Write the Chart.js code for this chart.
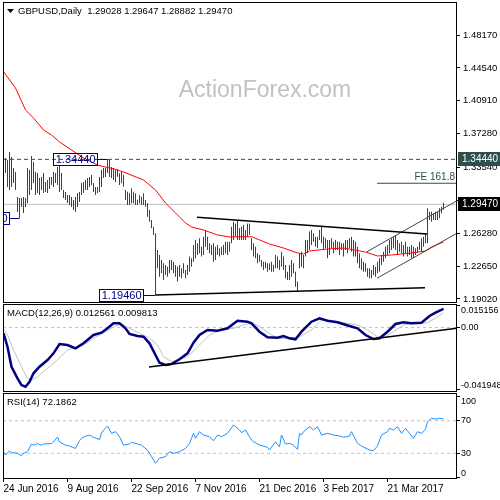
<!DOCTYPE html>
<html>
<head>
<meta charset="utf-8">
<title>GBPUSD Daily</title>
<script src="https://cdn.jsdelivr.net/npm/chart.js@4.4.1/dist/chart.umd.min.js"></script>
<style>
  html, body { margin: 0; padding: 0; background: #fff; }
  #wrap { position: relative; width: 500px; height: 500px; overflow: hidden; }
  canvas { position: absolute; left: 0; }
  #price-chart { top: 0; }
  #macd-chart { top: 303px; }
  #rsi-chart { top: 392px; }
</style>
</head>
<body>
<div id="wrap">
  <canvas id="price-chart" width="500" height="304"></canvas>
  <canvas id="macd-chart" width="500" height="90"></canvas>
  <canvas id="rsi-chart" width="500" height="108"></canvas>
</div>
<script>
// daily bars, index 0 = 24 Jun 2016
const highs = [
  1.3492, 1.3459, 1.3437, 1.3525, 1.3470, 1.3348, 1.3304, 1.3028, 1.3017, 1.3017,
  1.3028, 1.3017, 1.3348, 1.3326, 1.3481, 1.3415, 1.3304, 1.3293, 1.3238, 1.3249,
  1.3293, 1.3194, 1.3216, 1.3249, 1.3249, 1.3304, 1.3293, 1.3359, 1.3382, 1.3293,
  1.3106, 1.3083, 1.3050, 1.3050, 1.3028, 1.2995, 1.3028, 1.3072, 1.3083, 1.3183,
  1.3194, 1.3216, 1.3238, 1.3249, 1.3271, 1.3183, 1.3139, 1.3139, 1.3249, 1.3326,
  1.3348, 1.3348, 1.3444, 1.3437, 1.3359, 1.3348, 1.3326, 1.3334, 1.3290, 1.3308,
  1.3271, 1.3106, 1.3087, 1.3069, 1.3124, 1.3087, 1.3069, 1.2997, 1.3050, 1.3032,
  1.3069, 1.2995, 1.2959, 1.2885, 1.2774, 1.2701, 1.2628, 1.2443, 1.2388, 1.2333,
  1.2296, 1.2278, 1.2259, 1.2333, 1.2333, 1.2314, 1.2278, 1.2259, 1.2278, 1.2241,
  1.2296, 1.2222, 1.2278, 1.2370, 1.2351, 1.2498, 1.2554, 1.2517, 1.2572, 1.2480,
  1.2590, 1.2664, 1.2590, 1.2517, 1.2498, 1.2517, 1.2480, 1.2498, 1.2462, 1.2480,
  1.2498, 1.2535, 1.2535, 1.2535, 1.2701, 1.2756, 1.2737, 1.2774, 1.2683, 1.2701,
  1.2719, 1.2664, 1.2737, 1.2737, 1.2572, 1.2517, 1.2480, 1.2406, 1.2388, 1.2333,
  1.2314, 1.2314, 1.2296, 1.2296, 1.2314, 1.2278, 1.2388, 1.2370, 1.2333, 1.2425,
  1.2370, 1.2278, 1.2204, 1.2278, 1.2333, 1.2296, 1.2204, 1.2094, 1.2406, 1.2425,
  1.2388, 1.2554, 1.2554, 1.2646, 1.2664, 1.2628, 1.2590, 1.2590, 1.2664, 1.2701,
  1.2590, 1.2572, 1.2554, 1.2554, 1.2572, 1.2535, 1.2554, 1.2535, 1.2535, 1.2517,
  1.2517, 1.2554, 1.2554, 1.2572, 1.2590, 1.2554, 1.2535, 1.2480, 1.2406, 1.2351,
  1.2314, 1.2296, 1.2241, 1.2241, 1.2222, 1.2278, 1.2259, 1.2314, 1.2351, 1.2388,
  1.2425, 1.2480, 1.2498, 1.2554, 1.2572, 1.2590, 1.2609, 1.2554, 1.2517, 1.2535,
  1.2498, 1.2535, 1.2480, 1.2480, 1.2498, 1.2480, 1.2462, 1.2480, 1.2535, 1.2572,
  1.2590, 1.2628, 1.2904, 1.2866, 1.2866, 1.2848, 1.2866, 1.2866, 1.2904, 1.2921,
  1.29647
];
const lows = [
  1.3216, 1.3293, 1.3139, 1.3106, 1.3139, 1.3183, 1.3106, 1.2863, 1.2796, 1.2918,
  1.2852, 1.2918, 1.2962, 1.3050, 1.3106, 1.3183, 1.3050, 1.3072, 1.3050, 1.3106,
  1.3072, 1.3083, 1.3072, 1.3117, 1.3161, 1.3139, 1.3183, 1.3161, 1.3083, 1.3106,
  1.3017, 1.2995, 1.2962, 1.2940, 1.2918, 1.2885, 1.2863, 1.2918, 1.2973, 1.3050,
  1.3072, 1.3106, 1.3106, 1.3139, 1.3161, 1.3083, 1.3050, 1.3072, 1.3083, 1.3139,
  1.3238, 1.3249, 1.3293, 1.3249, 1.3238, 1.3216, 1.3194, 1.3253, 1.3161, 1.3180,
  1.3142, 1.2995, 1.2940, 1.2940, 1.2959, 1.2959, 1.2940, 1.2940, 1.2959, 1.2940,
  1.2940, 1.2921, 1.2811, 1.2756, 1.2683, 1.2609, 1.1946, 1.2241, 1.2148, 1.2186,
  1.2112, 1.2167, 1.2148, 1.2186, 1.2222, 1.2186, 1.2148, 1.2094, 1.2148, 1.2130,
  1.2186, 1.2130, 1.2167, 1.2204, 1.2259, 1.2314, 1.2351, 1.2388, 1.2406, 1.2370,
  1.2388, 1.2480, 1.2443, 1.2406, 1.2388, 1.2314, 1.2333, 1.2388, 1.2370, 1.2388,
  1.2388, 1.2406, 1.2388, 1.2425, 1.2517, 1.2554, 1.2590, 1.2554, 1.2554, 1.2554,
  1.2554, 1.2554, 1.2590, 1.2609, 1.2443, 1.2370, 1.2351, 1.2296, 1.2314, 1.2259,
  1.2222, 1.2241, 1.2204, 1.2222, 1.2204, 1.2204, 1.2241, 1.2241, 1.2222, 1.2259,
  1.2222, 1.2130, 1.2112, 1.2112, 1.2148, 1.2186, 1.2038, 1.1986, 1.2241, 1.2259,
  1.2241, 1.2370, 1.2406, 1.2443, 1.2498, 1.2535, 1.2480, 1.2462, 1.2554, 1.2517,
  1.2443, 1.2462, 1.2351, 1.2388, 1.2462, 1.2406, 1.2443, 1.2443, 1.2388, 1.2443,
  1.2370, 1.2443, 1.2406, 1.2462, 1.2425, 1.2370, 1.2370, 1.2296, 1.2241, 1.2222,
  1.2204, 1.2204, 1.2148, 1.2130, 1.2130, 1.2167, 1.2148, 1.2186, 1.2204, 1.2278,
  1.2314, 1.2351, 1.2388, 1.2406, 1.2443, 1.2462, 1.2443, 1.2388, 1.2425, 1.2406,
  1.2370, 1.2406, 1.2370, 1.2388, 1.2351, 1.2351, 1.2388, 1.2406, 1.2443, 1.2425,
  1.2480, 1.2517, 1.2517, 1.2774, 1.2756, 1.2774, 1.2774, 1.2774, 1.2793, 1.2848,
  1.28882
];

// red moving average, [bar, price]
const maPoints = [
  [0, 1.4412], [6, 1.4232], [11, 1.3989], [15, 1.3901], [20, 1.3768], [24, 1.3713],
  [28, 1.3636], [34, 1.3547], [40, 1.3459], [47, 1.3380], [53, 1.3349], [56, 1.3334],
  [60, 1.3304], [70, 1.3216], [76, 1.3106], [81, 1.2962], [86, 1.2852], [91, 1.2741],
  [94, 1.2697], [100, 1.2664], [107, 1.2609], [113, 1.2587], [124, 1.2590], [128, 1.2554],
  [133, 1.2509], [140, 1.2465], [147, 1.2410], [150, 1.2399], [153, 1.2432], [162, 1.2454],
  [170, 1.2465], [181, 1.2421], [187, 1.2377], [194, 1.2388], [204, 1.2410], [211, 1.2432],
  [214, 1.2476], [220, 1.2532]
];

const macdPoints = [
  [0, -0.00386], [2, -0.01287], [4, -0.02631], [7, -0.03410], [9, -0.03861], [11, -0.03975],
  [13, -0.03639], [15, -0.03074], [18, -0.02631], [22, -0.02180], [25, -0.01730], [28, -0.01105],
  [32, -0.01172], [36, -0.01394], [40, -0.01058], [45, -0.00500], [49, -0.00346], [52, -0.00050],
  [55, 0.00286], [58, 0.00286], [61, -0.00050], [63, -0.00433], [67, -0.00568], [70, -0.00615],
  [73, -0.01058], [76, -0.01844], [78, -0.02362], [81, -0.02516], [84, -0.02449], [88, -0.02134],
  [92, -0.01730], [95, -0.01018], [98, -0.00500], [102, -0.00164], [107, -0.00211], [112, -0.00050],
  [117, 0.00461], [122, 0.00394], [124, 0.00286], [128, -0.00278], [132, -0.00655], [137, -0.00682],
  [140, -0.00568], [143, -0.00722], [146, -0.00789], [149, -0.00278], [154, 0.00394], [158, 0.00622],
  [162, 0.00461], [167, 0.00353], [173, 0.00105], [177, -0.00050], [181, -0.00500], [185, -0.00769],
  [188, -0.00722], [192, -0.00278], [196, 0.00239], [200, 0.00353], [204, 0.00286], [209, 0.00326],
  [213, 0.00777], [216, 0.00998], [220, 0.012561]
];
const signalPoints = [
  [0, -0.00117], [2, -0.00500], [5, -0.01508], [9, -0.02631], [12, -0.03410], [14, -0.03524],
  [17, -0.03303], [22, -0.02738], [27, -0.02180], [32, -0.01508], [35, -0.01394], [40, -0.01172],
  [45, -0.00722], [48, -0.00500], [52, -0.00211], [56, 0.00105], [59, 0.00239], [63, -0.00050],
  [68, -0.00386], [73, -0.00722], [77, -0.01172], [80, -0.01958], [84, -0.02295], [87, -0.02180],
  [92, -0.01958], [98, -0.01172], [103, -0.00500], [108, -0.00211], [115, -0.00050], [120, 0.00172],
  [124, 0.00326], [128, 0.00058], [134, -0.00500], [138, -0.00722], [143, -0.00722], [148, -0.00615],
  [154, -0.00164], [159, 0.00508], [164, 0.00461], [170, 0.00326], [177, 0.00172], [182, -0.00164],
  [187, -0.00615], [190, -0.00682], [195, -0.00278], [200, 0.00172], [207, 0.00326], [212, 0.00326],
  [216, 0.00622], [220, 0.009813]
];

const rsiPoints = [
  [0, 32], [1, 28], [3, 33], [4, 31], [7, 30], [9, 27], [10, 30], [12, 32], [14, 41.5], [15, 40],
  [17, 42], [19, 40], [20, 41.5], [24, 42], [25, 44], [27, 50], [28, 44], [31, 40], [33, 39], [36, 36],
  [38, 45.5], [39, 48.5], [41, 51], [43, 52.5], [45, 49.7], [48, 47], [49, 55], [51, 61], [52, 63.5], [54, 54.6],
  [56, 56.6], [58, 50.4], [60, 40], [63, 41.5], [64, 43.6], [67, 41.5], [69, 40], [72, 34], [74, 26], [76, 17.8],
  [78, 24], [81, 26], [83, 32], [85, 30], [88, 32], [91, 36], [93, 42], [95, 54.6], [96, 48.5], [98, 56.6],
  [100, 52.5], [103, 50.4], [105, 45.5], [107, 52.5], [109, 50.4], [112, 54.6], [115, 64.8], [118, 58.7], [119, 55.3], [121, 58.7],
  [123, 50.4], [124, 46.4], [125, 44.3], [128, 40.2], [132, 37.4], [133, 34], [136, 44.3], [138, 38], [139, 52.5], [141, 41.5],
  [143, 42.3], [145, 40], [147, 35], [148, 54.6], [149, 52.5], [150, 56.6], [153, 62.7], [155, 58.7], [157, 62.7], [159, 52.5],
  [162, 54.6], [165, 52.5], [168, 51.3], [170, 49.7], [173, 51.3], [174, 56.6], [177, 42.3], [179, 39], [183, 34], [185, 33.3],
  [187, 39], [189, 52.5], [192, 56.6], [193, 60.7], [195, 58.7], [197, 62.7], [199, 54.6], [201, 60.7], [203, 54.6], [205, 48.5],
  [207, 56.6], [209, 54.6], [211, 59.5], [212, 68.8], [214, 73], [216, 72], [218, 73], [220, 72.1862]
];

// drawn studies, [bar, value]
const triangleTop = [[96.75, 1.2804], [211.75, 1.2620]];
const triangleBottom = [[76, 1.1946], [210.75, 1.2027]];
const channelTop = [[181.75, 1.2424], [226.75, 1.2987]];
const channelBottom = [[186.75, 1.2131], [226.75, 1.2628]];
const feLevel = [[186.75, 1.3180], [226.75, 1.3180]];
const macdTrend = [[72.75, -0.02651], [226.75, -0.0005]];
const resistance = 1.3444;
const lastClose = 1.2947;

const noteLabels = ["1.34440", "1.19460", "1.27960"];
const notePrices = [1.3444, 1.1946, 1.2796];
const noteBars = [52, 76, 8];

const priceTicks = [1.4817, 1.4454, 1.4091, 1.3728, 1.3354, 1.2991, 1.2628, 1.2265, 1.1902];
const macdTicks = [0.015156, 0, -0.041948];
const macdTickLabels = ["0.015156", "0.00", "-0.041948"];
const rsiTicks = [100, 70, 30, 0];
const rsiTickLabels = ["100", "70", "30", "0"];
const rsiLevels = [70, 30];
const dateTickIndex = [0, 32, 64, 96, 128, 160, 192];
const dateTickLabels = ["24 Jun 2016", "9 Aug 2016", "22 Sep 2016", "7 Nov 2016", "21 Dec 2016", "3 Feb 2017", "21 Mar 2017"];

const X_MIN = -0.25;
const X_MAX = 226.75;
const PRICE_MIN = 1.18578;
const PRICE_MAX = 1.51814;
const MACD_MIN = -0.043292;
const MACD_MAX = 0.015828;
const RSI_MIN = -1.47;
const RSI_MAX = 104.05;
const RIGHT_AXIS_WIDTH = 43;
const FONT = "'Liberation Sans', Arial, sans-serif";
const BAR_COLOR = "#1a4c6c";
const SLATE = "#2f4f4f";

Chart.defaults.font.family = FONT;
Chart.defaults.font.size = 9.5;
Chart.defaults.color = "#000";

function toXY(points) {
  return points.map(([x, y]) => ({ x, y }));
}

function lineSet(points, color, width, extra) {
  return Object.assign({
    type: "line",
    data: toXY(points),
    borderColor: color,
    borderWidth: width,
    pointRadius: 0,
    tension: 0,
    fill: false
  }, extra);
}

function levelSet(value, color, extra) {
  return lineSet([[X_MIN, value], [X_MAX, value]], color, 1, extra);
}

function fitRightAxis(scale) {
  scale.width = RIGHT_AXIS_WIDTH;
  scale.paddingTop = 0;
  scale.paddingBottom = 0;
}

function hiddenX() {
  return {
    type: "linear",
    min: X_MIN,
    max: X_MAX,
    offset: false,
    display: false,
    afterFit(scale) {
      scale.paddingLeft = 0;
      scale.paddingRight = 0;
    }
  };
}

function rightAxis(min, max, values, showLabels) {
  return {
    type: "linear",
    position: "right",
    min,
    max,
    beginAtZero: false,
    afterBuildTicks(scale) {
      scale.ticks = values.map((value) => ({ value }));
    },
    afterFit: fitRightAxis,
    border: { display: false },
    grid: { drawOnChartArea: false, drawTicks: true, tickLength: 3, color: "#000" },
    ticks: {
      display: showLabels,
      padding: 3,
      autoSkip: false,
      callback: (value) => value.toFixed(5)
    }
  };
}

const framePlugin = {
  id: "frame",
  afterDraw(chart) {
    const { ctx, chartArea: area } = chart;
    ctx.save();
    ctx.strokeStyle = "#000";
    ctx.lineWidth = 1;
    ctx.strokeRect(area.left + 0.5, area.top + 0.5, area.right - area.left - 1, area.bottom - area.top - 1);
    ctx.restore();
  }
};

const panelTitlePlugin = {
  id: "panelTitle",
  afterDraw(chart, args, opts) {
    const { ctx, chartArea: area } = chart;
    const y = area.top + 9;
    let x = area.left + 4;
    ctx.save();
    ctx.fillStyle = "#000";
    if (opts.arrow) {
      ctx.beginPath();
      ctx.moveTo(x, y - 2);
      ctx.lineTo(x + 7, y - 2);
      ctx.lineTo(x + 3.5, y + 2);
      ctx.closePath();
      ctx.fill();
      x += 11;
    }
    ctx.font = `9.5px ${FONT}`;
    ctx.textBaseline = "middle";
    ctx.fillText(opts.text, x, y);
    ctx.restore();
  }
};

// right side labels of the indicator panels, first and last kept inside the frame
const sideLabelsPlugin = {
  id: "sideLabels",
  afterDraw(chart, args, opts) {
    const { ctx, chartArea: area } = chart;
    const scale = chart.scales.y;
    ctx.save();
    ctx.font = `9px ${FONT}`;
    ctx.fillStyle = "#000";
    ctx.textAlign = "left";
    opts.values.forEach((value, index) => {
      const y = scale.getPixelForValue(value);
      let baseline = "middle";
      if (index === 0) {
        baseline = "top";
      } else if (index === opts.values.length - 1) {
        baseline = "bottom";
      }
      ctx.textBaseline = baseline;
      ctx.fillText(opts.labels[index], area.right + 4, y + (baseline === "top" ? 1 : 0));
    });
    ctx.restore();
  }
};

const priceNotesPlugin = {
  id: "priceNotes",
  beforeDatasetsDraw(chart) {
    const { ctx } = chart;
    ctx.save();
    ctx.font = `23px ${FONT}`;
    ctx.fillStyle = "#bfc2c6";
    ctx.textAlign = "center";
    ctx.textBaseline = "alphabetic";
    ctx.fillText("ActionForex.com", 265, 97);
    ctx.restore();
  },
  afterDatasetsDraw(chart, args, opts) {
    const { ctx, chartArea: area, scales: { x, y } } = chart;
    ctx.save();
    ctx.beginPath();
    ctx.rect(area.left, area.top, area.right - area.left, area.bottom - area.top);
    ctx.clip();

    ctx.font = `11px ${FONT}`;
    ctx.textBaseline = "middle";
    ctx.lineWidth = 1;
    noteLabels.forEach((text, i) => {
      const py = Math.round(y.getPixelForValue(notePrices[i])) + 0.5;
      const right = Math.round(x.getPixelForValue(opts.boxEnds[i])) + 0.5;
      const w = Math.ceil(ctx.measureText(text).width) + 4;
      ctx.strokeStyle = "#000080";
      ctx.strokeRect(right - w, py - 6, w, 12);
      ctx.beginPath();
      ctx.moveTo(right, py);
      ctx.lineTo(x.getPixelForValue(noteBars[i]), py);
      ctx.stroke();
      ctx.fillStyle = "#000080";
      ctx.textAlign = "right";
      ctx.fillText(text, right - 2, py + 0.5);
    });

    ctx.font = `10px ${FONT}`;
    ctx.fillStyle = SLATE;
    ctx.textAlign = "right";
    ctx.textBaseline = "alphabetic";
    ctx.fillText("FE 161.8", x.getPixelForValue(feLevel[1][0]) - 2, y.getPixelForValue(feLevel[1][1]) - 3);
    ctx.restore();
  },
  afterDraw(chart) {
    const { ctx, chartArea: area, scales: { y } } = chart;
    const marks = [[resistance, SLATE], [lastClose, "#000"]];
    ctx.save();
    ctx.font = `10px ${FONT}`;
    ctx.textBaseline = "middle";
    ctx.textAlign = "left";
    marks.forEach(([price, color]) => {
      const py = Math.round(y.getPixelForValue(price));
      ctx.fillStyle = color;
      ctx.fillRect(area.right + 1, py - 7, 43, 14);
      ctx.fillStyle = "#fff";
      ctx.fillText(price.toFixed(5), area.right + 5, py + 0.5);
    });
    ctx.restore();
  }
};

new Chart(document.querySelector("#price-chart"), {
  type: "bar",
  data: {
    datasets: [
      levelSet(lastClose, "#c0c0c0", { order: 9 }),
      {
        type: "bar",
        data: highs.map((high, i) => ({ x: i, y: [lows[i], high] })),
        backgroundColor: BAR_COLOR,
        borderWidth: 0,
        barThickness: 1,
        inflateAmount: 0,
        order: 5
      },
      lineSet(maPoints, "#ff0000", 1, { order: 4 }),
      levelSet(resistance, SLATE, { borderDash: [4, 3], order: 3 }),
      lineSet(triangleTop, "#000", 1.5, { order: 2 }),
      lineSet(triangleBottom, "#000", 1.5, { order: 2 }),
      lineSet(channelTop, SLATE, 1, { order: 2 }),
      lineSet(channelBottom, SLATE, 1, { order: 2 }),
      lineSet(feLevel, SLATE, 1, { order: 2 })
    ]
  },
  options: {
    responsive: false,
    animation: false,
    events: [],
    layout: { padding: { left: 3, right: 0, top: 2, bottom: 1 } },
    plugins: {
      legend: { display: false },
      tooltip: { enabled: false },
      panelTitle: { text: "GBPUSD,Daily  1.29028 1.29647 1.28882 1.29470", arrow: true },
      priceNotes: { boxEnds: [46.75, 69.75, 2.75] }
    },
    scales: {
      x: hiddenX(),
      y: rightAxis(PRICE_MIN, PRICE_MAX, priceTicks, true)
    }
  },
  plugins: [framePlugin, panelTitlePlugin, priceNotesPlugin]
});

new Chart(document.querySelector("#macd-chart"), {
  type: "line",
  data: {
    datasets: [
      levelSet(0, "#c0c0c0", { borderDash: [3, 3], order: 9 }),
      lineSet(signalPoints, "#c0c0c0", 1, { order: 4 }),
      lineSet(macdPoints, "#000080", 2.5, { order: 3 }),
      lineSet(macdTrend, "#000", 1.5, { order: 2 })
    ]
  },
  options: {
    responsive: false,
    animation: false,
    events: [],
    layout: { padding: { left: 3, right: 0, top: 1, bottom: 1 } },
    plugins: {
      legend: { display: false },
      tooltip: { enabled: false },
      panelTitle: { text: "MACD(12,26,9) 0.012561 0.009813" },
      sideLabels: { values: macdTicks, labels: macdTickLabels }
    },
    scales: {
      x: hiddenX(),
      y: rightAxis(MACD_MIN, MACD_MAX, macdTicks, false)
    }
  },
  plugins: [framePlugin, panelTitlePlugin, sideLabelsPlugin]
});

new Chart(document.querySelector("#rsi-chart"), {
  type: "line",
  data: {
    datasets: [
      ...rsiLevels.map((level) => levelSet(level, "#c0c0c0", { borderDash: [3, 3], order: 9 })),
      lineSet(rsiPoints, "#1e90ff", 1, { order: 3 })
    ]
  },
  options: {
    responsive: false,
    animation: false,
    events: [],
    layout: { padding: { left: 3, right: 0, top: 1, bottom: 0 } },
    plugins: {
      legend: { display: false },
      tooltip: { enabled: false },
      panelTitle: { text: "RSI(14) 72.1862" },
      sideLabels: { values: rsiTicks, labels: rsiTickLabels }
    },
    scales: {
      x: {
        type: "linear",
        min: X_MIN,
        max: X_MAX,
        offset: false,
        afterBuildTicks(scale) {
          scale.ticks = dateTickIndex.map((value) => ({ value }));
        },
        afterFit(scale) {
          scale.height = 21;
          scale.paddingLeft = 0;
          scale.paddingRight = 0;
        },
        border: { display: false },
        grid: { drawOnChartArea: false, drawTicks: true, tickLength: 3, color: "#000" },
        ticks: {
          align: "start",
          padding: 1,
          maxRotation: 0,
          autoSkip: false,
          font: { size: 10 },
          callback: (value, index) => dateTickLabels[index]
        }
      },
      y: rightAxis(RSI_MIN, RSI_MAX, rsiTicks, false)
    }
  },
  plugins: [framePlugin, panelTitlePlugin, sideLabelsPlugin]
});
</script>
</body>
</html>
